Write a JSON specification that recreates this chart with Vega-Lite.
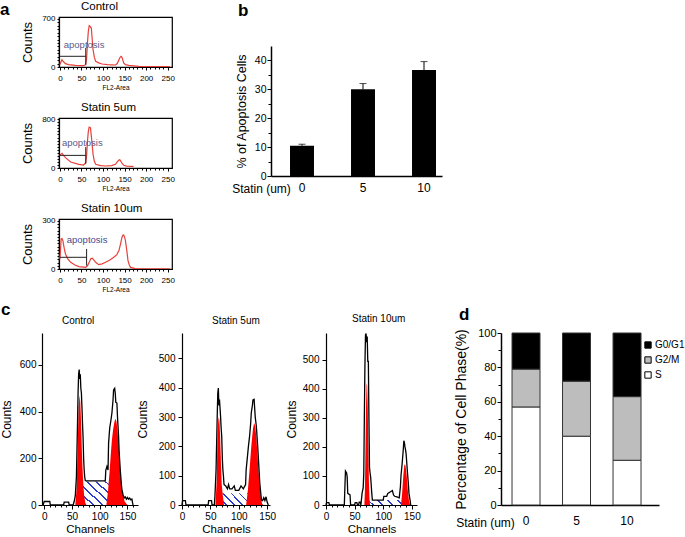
{
"$schema":"https://vega.github.io/schema/vega-lite/v6.json",
"autosize":{"type":"pad"},
"padding":0,
"background":"white",
"config":{"view":{"stroke":null},"font":"Liberation Sans",
"axis":{"grid":false,"domainColor":"#000","domainWidth":1.2,"tickColor":"#000","tickWidth":1,"labelColor":"#000","titleColor":"#000","titleFontWeight":"normal","labelFlush":false,"labelOverlap":false},
"title":{"fontWeight":"normal","color":"#000"}},
"datasets":{
"a1":[{"x":0,"y":34},{"x":3,"y":80},{"x":5,"y":107},{"x":8,"y":80},{"x":13,"y":49},{"x":20,"y":35},{"x":36,"y":24},{"x":50,"y":20},{"x":55,"y":19},{"x":60,"y":34},{"x":62,"y":120},{"x":64,"y":350},{"x":66,"y":520},{"x":68,"y":602},{"x":70,"y":590},{"x":73,"y":568},{"x":75,"y":400},{"x":77,"y":253},{"x":80,"y":140},{"x":83,"y":83},{"x":90,"y":60},{"x":98,"y":44},{"x":110,"y":35},{"x":120,"y":32},{"x":129,"y":29},{"x":133,"y":50},{"x":137,"y":107},{"x":140,"y":145},{"x":142,"y":155},{"x":144,"y":140},{"x":148,"y":58},{"x":152,"y":35},{"x":160,"y":24},{"x":183,"y":10},{"x":220,"y":7},{"x":255,"y":5}],
"a2":[{"x":0,"y":200},{"x":2,"y":223},{"x":5,"y":240},{"x":8,"y":210},{"x":13,"y":169},{"x":25,"y":98},{"x":44,"y":60},{"x":55,"y":49},{"x":60,"y":87},{"x":62,"y":200},{"x":64,"y":441},{"x":66,"y":600},{"x":68,"y":670},{"x":70,"y":665},{"x":71,"y":659},{"x":74,"y":450},{"x":77,"y":223},{"x":80,"y":110},{"x":83,"y":60},{"x":95,"y":40},{"x":106,"y":33},{"x":120,"y":40},{"x":129,"y":60},{"x":133,"y":100},{"x":137,"y":131},{"x":139,"y":135},{"x":141,"y":114},{"x":144,"y":80},{"x":148,"y":44},{"x":155,"y":32},{"x":168,"y":27},{"x":171,"y":25}],
"a3":[{"x":0,"y":60},{"x":1,"y":94},{"x":3,"y":188},{"x":5,"y":190},{"x":7,"y":177},{"x":10,"y":130},{"x":13,"y":94},{"x":18,"y":65},{"x":25,"y":42},{"x":35,"y":25},{"x":44,"y":15},{"x":55,"y":12},{"x":60,"y":10},{"x":64,"y":20},{"x":68,"y":42},{"x":72,"y":65},{"x":75,"y":67},{"x":78,"y":58},{"x":83,"y":42},{"x":90,"y":27},{"x":98,"y":32},{"x":106,"y":42},{"x":115,"y":55},{"x":125,"y":73},{"x":132,"y":90},{"x":137,"y":115},{"x":141,"y":160},{"x":144,"y":198},{"x":146,"y":210},{"x":148,"y":212},{"x":150,"y":200},{"x":152,"y":177},{"x":155,"y":120},{"x":158,"y":52},{"x":161,"y":25},{"x":164,"y":10},{"x":175,"y":2},{"x":200,"y":1},{"x":255,"y":1}],
"a1k":[{"x":0,"x2":60,"y":156,"y2":156},{"x":60,"x2":60,"y":34,"y2":277}],
"a2k":[{"x":0,"x2":60,"y":207,"y2":207},{"x":60,"x2":60,"y":70,"y2":343}],
"a3k":[{"x":0,"x2":62,"y":73,"y2":73},{"x":62,"x2":62,"y":21,"y2":125}],
"b":[{"statin":"0","pct":10.5,"hi":11.0},{"statin":"5","pct":30,"hi":32},{"statin":"10","pct":36.7,"hi":39.6}],
"d":[{"statin":"0","phase":"S","pct":57},{"statin":"0","phase":"G2/M","pct":22},{"statin":"0","phase":"G0/G1","pct":21},{"statin":"5","phase":"S","pct":40},{"statin":"5","phase":"G2/M","pct":32},{"statin":"5","phase":"G0/G1","pct":28},{"statin":"10","phase":"S","pct":26},{"statin":"10","phase":"G2/M","pct":37},{"statin":"10","phase":"G0/G1","pct":37}],
"c1o":[{"x":-2,"y":0},{"x":0,"y":15},{"x":10,"y":15},{"x":11,"y":0},{"x":35,"y":0},{"x":36,"y":12},{"x":44,"y":12},{"x":45,"y":0},{"x":52,"y":0},{"x":54,"y":15},{"x":56,"y":40},{"x":58,"y":120},{"x":60,"y":350},{"x":61,"y":480},{"x":62,"y":560},{"x":63,"y":580},{"x":64,"y":540},{"x":65,"y":560},{"x":66,"y":500},{"x":67,"y":480},{"x":68,"y":420},{"x":69,"y":350},{"x":70,"y":290},{"x":71,"y":200},{"x":72,"y":150},{"x":73,"y":120},{"x":74,"y":105},{"x":76,"y":103},{"x":110,"y":103},{"x":111,"y":150},{"x":113,"y":165},{"x":115,"y":150},{"x":116,"y":265},{"x":118,"y":330},{"x":120,"y":360},{"x":122,"y":394},{"x":124,"y":450},{"x":125,"y":493},{"x":127,"y":500},{"x":128,"y":480},{"x":129,"y":440},{"x":131,"y":437},{"x":132,"y":380},{"x":134,"y":293},{"x":135,"y":230},{"x":137,"y":151},{"x":139,"y":90},{"x":140,"y":66},{"x":142,"y":44},{"x":144,"y":30},{"x":146,"y":35},{"x":148,"y":25},{"x":150,"y":32},{"x":152,"y":25},{"x":154,"y":30},{"x":156,"y":22},{"x":158,"y":25},{"x":160,"y":0}],
"c1r":[{"pk":"G1","x":56,"y":0},{"pk":"G1","x":58,"y":60},{"pk":"G1","x":60,"y":200},{"pk":"G1","x":61,"y":320},{"pk":"G1","x":62,"y":420},{"pk":"G1","x":63,"y":450},{"pk":"G1","x":64,"y":470},{"pk":"G1","x":65,"y":440},{"pk":"G1","x":66,"y":380},{"pk":"G1","x":67,"y":300},{"pk":"G1","x":68,"y":220},{"pk":"G1","x":69,"y":160},{"pk":"G1","x":70,"y":110},{"pk":"G1","x":71,"y":70},{"pk":"G1","x":72,"y":40},{"pk":"G1","x":74,"y":10},{"pk":"G1","x":76,"y":0},{"pk":"G2","x":112,"y":0},{"pk":"G2","x":115,"y":60},{"pk":"G2","x":118,"y":150},{"pk":"G2","x":120,"y":220},{"pk":"G2","x":122,"y":280},{"pk":"G2","x":124,"y":320},{"pk":"G2","x":126,"y":350},{"pk":"G2","x":128,"y":370},{"pk":"G2","x":130,"y":360},{"pk":"G2","x":132,"y":320},{"pk":"G2","x":134,"y":260},{"pk":"G2","x":136,"y":190},{"pk":"G2","x":138,"y":120},{"pk":"G2","x":140,"y":70},{"pk":"G2","x":142,"y":40},{"pk":"G2","x":145,"y":15},{"pk":"G2","x":150,"y":0}],
"c1h":[{"x":57,"y":0},{"x":70,"y":101},{"x":113,"y":101},{"x":145,"y":0}],
"c2o":[{"x":0,"y":0},{"x":1,"y":15},{"x":6,"y":15},{"x":7,"y":0},{"x":46,"y":0},{"x":47,"y":15},{"x":52,"y":15},{"x":53,"y":0},{"x":57,"y":0},{"x":58,"y":30},{"x":60,"y":120},{"x":62,"y":300},{"x":63,"y":380},{"x":64,"y":399},{"x":65,"y":340},{"x":66,"y":360},{"x":67,"y":331},{"x":68,"y":300},{"x":69,"y":260},{"x":70,"y":234},{"x":71,"y":160},{"x":72,"y":120},{"x":73,"y":99},{"x":74,"y":70},{"x":77,"y":65},{"x":80,"y":55},{"x":82,"y":70},{"x":84,"y":55},{"x":88,"y":55},{"x":92,"y":65},{"x":94,"y":50},{"x":100,"y":50},{"x":104,"y":65},{"x":108,"y":55},{"x":112,"y":70},{"x":113,"y":120},{"x":115,"y":160},{"x":117,"y":200},{"x":119,"y":234},{"x":121,"y":280},{"x":122,"y":314},{"x":124,"y":340},{"x":125,"y":359},{"x":127,"y":361},{"x":128,"y":330},{"x":129,"y":300},{"x":131,"y":268},{"x":133,"y":210},{"x":134,"y":177},{"x":136,"y":110},{"x":137,"y":75},{"x":139,"y":35},{"x":140,"y":17},{"x":142,"y":15},{"x":144,"y":25},{"x":146,"y":15},{"x":148,"y":28},{"x":150,"y":10},{"x":152,"y":0}],
"c2r":[{"pk":"G1","x":59,"y":0},{"pk":"G1","x":61,"y":80},{"pk":"G1","x":62,"y":180},{"pk":"G1","x":63,"y":260},{"pk":"G1","x":64,"y":290},{"pk":"G1","x":65,"y":300},{"pk":"G1","x":66,"y":285},{"pk":"G1","x":67,"y":240},{"pk":"G1","x":68,"y":180},{"pk":"G1","x":69,"y":120},{"pk":"G1","x":70,"y":70},{"pk":"G1","x":72,"y":30},{"pk":"G1","x":74,"y":0},{"pk":"G2","x":113,"y":0},{"pk":"G2","x":116,"y":50},{"pk":"G2","x":119,"y":120},{"pk":"G2","x":122,"y":200},{"pk":"G2","x":125,"y":260},{"pk":"G2","x":127,"y":280},{"pk":"G2","x":129,"y":270},{"pk":"G2","x":131,"y":230},{"pk":"G2","x":133,"y":170},{"pk":"G2","x":135,"y":110},{"pk":"G2","x":137,"y":60},{"pk":"G2","x":139,"y":25},{"pk":"G2","x":141,"y":5},{"pk":"G2","x":143,"y":0}],
"c2h":[{"x":60,"y":0},{"x":69,"y":40},{"x":117,"y":40},{"x":137,"y":0}],
"c3o":[{"x":0,"y":0},{"x":1,"y":8},{"x":5,"y":8},{"x":6,"y":0},{"x":32,"y":0},{"x":33,"y":60},{"x":34,"y":117},{"x":36,"y":110},{"x":37,"y":97},{"x":38,"y":40},{"x":42,"y":35},{"x":43,"y":0},{"x":50,"y":0},{"x":51,"y":8},{"x":54,"y":8},{"x":55,"y":0},{"x":57,"y":0},{"x":58,"y":10},{"x":60,"y":10},{"x":61,"y":0},{"x":63,"y":40},{"x":65,"y":60},{"x":66,"y":108},{"x":67,"y":300},{"x":68,"y":480},{"x":69,"y":585},{"x":70,"y":590},{"x":71,"y":560},{"x":72,"y":580},{"x":73,"y":494},{"x":74,"y":494},{"x":75,"y":300},{"x":76,"y":130},{"x":77,"y":110},{"x":78,"y":97},{"x":80,"y":40},{"x":81,"y":17},{"x":100,"y":17},{"x":101,"y":30},{"x":106,"y":30},{"x":108,"y":40},{"x":112,"y":45},{"x":116,"y":50},{"x":118,"y":35},{"x":120,"y":30},{"x":124,"y":28},{"x":128,"y":25},{"x":130,"y":63},{"x":131,"y":100},{"x":133,"y":141},{"x":135,"y":190},{"x":136,"y":221},{"x":137,"y":215},{"x":138,"y":200},{"x":139,"y":190},{"x":140,"y":176},{"x":142,"y":120},{"x":144,"y":70},{"x":145,"y":40},{"x":147,"y":15},{"x":148,"y":0}],
"c3r":[{"pk":"G1","x":67,"y":0},{"pk":"G1","x":68,"y":50},{"pk":"G1","x":69,"y":200},{"pk":"G1","x":70,"y":350},{"pk":"G1","x":71,"y":420},{"pk":"G1","x":72,"y":410},{"pk":"G1","x":73,"y":330},{"pk":"G1","x":74,"y":200},{"pk":"G1","x":75,"y":80},{"pk":"G1","x":76,"y":20},{"pk":"G1","x":77,"y":0},{"pk":"G2","x":131,"y":0},{"pk":"G2","x":133,"y":40},{"pk":"G2","x":135,"y":100},{"pk":"G2","x":137,"y":140},{"pk":"G2","x":139,"y":135},{"pk":"G2","x":141,"y":100},{"pk":"G2","x":143,"y":50},{"pk":"G2","x":145,"y":15},{"pk":"G2","x":147,"y":0}],
"c3h":[{"x":70,"y":0},{"x":76,"y":17},{"x":128,"y":17},{"x":140,"y":0}]
},
"columns":5,
"bounds":"flush",
"align":"each",
"spacing":{"row":51,"column":0},
"concat":[
{"width":17,"height":1,"data":{"values":[]},"mark":"point","title":{"text":"a","anchor":"start","frame":"group","dx":-42,"offset":-2,"fontSize":17,"fontWeight":"bold"}},
{"width":113,"height":50,"view":{"stroke":"#000","strokeWidth":1.2},
 "title":{"text":"Control","anchor":"start","frame":"group","dx":22,"fontSize":11.5,"offset":2},
 "encoding":{"x":{"field":"x","type":"quantitative","scale":{"domain":[-2,260],"nice":false,"zero":false},"axis":{"values":[0,10,20,30,40,50,60,70,80,90,100,110,120,130,140,150,160,170,180,190,200,210,220,230,240,250],"labelExpr":"datum.value % 50 === 0 ? datum.label : ''","tickSize":{"condition":{"test":"datum.value % 50 === 0","value":3},"value":2},"labelFontSize":8,"labelPadding":4,"title":"FL2-Area","titleFontSize":6.5,"titlePadding":2}},
  "y":{"field":"y","type":"quantitative","scale":{"domain":[0,729],"nice":false},"axis":{"values":[0,50,100,150,200,250,300,350,400,450,500,550,600,650,700],"labelExpr":"datum.value === 0 || datum.value === 700 ? datum.label : ''","tickSize":2,"labelFontSize":8,"labelPadding":2,"title":"Counts","titleFontSize":13,"titlePadding":7}}},
 "layer":[
  {"data":{"name":"a1"},"mark":{"type":"line","color":"#e8403a","strokeWidth":1.2,"clip":true}},
  {"data":{"name":"a1k"},"mark":{"type":"rule","color":"#222","strokeWidth":1},"encoding":{"x2":{"field":"x2"},"y2":{"field":"y2"}}},
  {"data":{"values":[{"x":9,"y":320,"t":"apoptosis"}]},"mark":{"type":"text","align":"left","baseline":"middle","fontSize":9.5,"color":"#5b5b8c"},"encoding":{"text":{"field":"t"}}}
 ]},
{"width":99,"height":1,"data":{"values":[]},"mark":"point"},
{"width":171,"height":50,
 "title":{"text":"b","anchor":"start","frame":"group","dx":-33,"fontSize":17,"fontWeight":"bold","offset":-3},
 "data":{"name":"b"},
 "encoding":{"x":{"field":"statin","type":"ordinal","sort":["0","5","10"],"scale":{"paddingInner":0.607,"paddingOuter":0.205,"align":0.76},"axis":{"title":"Statin (um)","titleAngle":0,"titleX":-10,"titleY":12,"titleAlign":"center","titleBaseline":"middle","titleFontSize":12,"labelAngle":0,"labelFontSize":12,"labelPadding":6,"ticks":false,"domainWidth":1.5,"offset":109}},
  "y":{"field":"pct","type":"quantitative","scale":{"domain":[0,45],"nice":false,"range":[159,29]},"axis":{"values":[0,5,10,15,20,25,30,35,40],"labelExpr":"datum.value % 10 === 0 ? datum.label : ''","tickSize":{"condition":{"test":"datum.value % 10 === 0","value":4},"value":3},"labelFontSize":10.5,"labelPadding":1,"title":"% of Apoptosis Cells","titleFontSize":12.5,"titlePadding":6,"domainWidth":1.5}}},
 "layer":[
  {"mark":{"type":"bar","color":"#000"}},
  {"mark":{"type":"rule","color":"#000","strokeWidth":1},"encoding":{"y2":{"field":"hi"}}},
  {"mark":{"type":"tick","orient":"horizontal","color":"#000","size":7,"thickness":1},
   "encoding":{"y":{"field":"hi","type":"quantitative","scale":{"domain":[0,45],"nice":false,"range":[159,29]},"axis":{"values":[0,5,10,15,20,25,30,35,40],"labelExpr":"datum.value % 10 === 0 ? datum.label : ''","tickSize":{"condition":{"test":"datum.value % 10 === 0","value":4},"value":3},"labelFontSize":10.5,"labelPadding":1,"title":"% of Apoptosis Cells","titleFontSize":12.5,"titlePadding":6,"domainWidth":1.5}}}}
 ]},
{"width":1,"height":1,"data":{"values":[]},"mark":"point"},

{"width":17,"height":1,"data":{"values":[]},"mark":"point"},
{"width":113,"height":50,"view":{"stroke":"#000","strokeWidth":1.2},
 "title":{"text":"Statin  5um","anchor":"start","frame":"group","dx":22,"fontSize":11.5,"offset":2},
 "encoding":{"x":{"field":"x","type":"quantitative","scale":{"domain":[-2,260],"nice":false,"zero":false},"axis":{"values":[0,10,20,30,40,50,60,70,80,90,100,110,120,130,140,150,160,170,180,190,200,210,220,230,240,250],"labelExpr":"datum.value % 50 === 0 ? datum.label : ''","tickSize":{"condition":{"test":"datum.value % 50 === 0","value":3},"value":2},"labelFontSize":8,"labelPadding":4,"title":"FL2-Area","titleFontSize":6.5,"titlePadding":2}},
  "y":{"field":"y","type":"quantitative","scale":{"domain":[0,820],"nice":false},"axis":{"values":[0,50,100,150,200,250,300,350,400,450,500,550,600,650,700,750,800],"labelExpr":"datum.value === 0 || datum.value === 800 ? datum.label : ''","tickSize":2,"labelFontSize":8,"labelPadding":2,"title":"Counts","titleFontSize":13,"titlePadding":7}}},
 "layer":[
  {"data":{"name":"a2"},"mark":{"type":"line","color":"#e8403a","strokeWidth":1.2,"clip":true}},
  {"data":{"name":"a2k"},"mark":{"type":"rule","color":"#222","strokeWidth":1},"encoding":{"x2":{"field":"x2"},"y2":{"field":"y2"}}},
  {"data":{"values":[{"x":5,"y":403,"t":"apoptosis"}]},"mark":{"type":"text","align":"left","baseline":"middle","fontSize":9.5,"color":"#5b5b8c"},"encoding":{"text":{"field":"t"}}}
 ]},
{"width":1,"height":1,"data":{"values":[]},"mark":"point"},
{"width":1,"height":1,"data":{"values":[]},"mark":"point"},
{"width":1,"height":1,"data":{"values":[]},"mark":"point"},

{"width":17,"height":63,"data":{"values":[]},"mark":"point"},
{"width":113,"height":50,"view":{"stroke":"#000","strokeWidth":1.2},
 "title":{"text":"Statin 10um","anchor":"start","frame":"group","dx":22,"fontSize":11.5,"offset":2},
 "encoding":{"x":{"field":"x","type":"quantitative","scale":{"domain":[-2,260],"nice":false,"zero":false},"axis":{"values":[0,10,20,30,40,50,60,70,80,90,100,110,120,130,140,150,160,170,180,190,200,210,220,230,240,250],"labelExpr":"datum.value % 50 === 0 ? datum.label : ''","tickSize":{"condition":{"test":"datum.value % 50 === 0","value":3},"value":2},"labelFontSize":8,"labelPadding":4,"title":"FL2-Area","titleFontSize":6.5,"titlePadding":2}},
  "y":{"field":"y","type":"quantitative","scale":{"domain":[0,312],"nice":false},"axis":{"values":[0,20,40,60,80,100,120,140,160,180,200,220,240,260,280,300],"labelExpr":"datum.value === 0 || datum.value === 300 ? datum.label : ''","tickSize":2,"labelFontSize":8,"labelPadding":2,"title":"Counts","titleFontSize":13,"titlePadding":7}}},
 "layer":[
  {"data":{"name":"a3"},"mark":{"type":"line","color":"#e8403a","strokeWidth":1.2,"clip":true}},
  {"data":{"name":"a3k"},"mark":{"type":"rule","color":"#222","strokeWidth":1},"encoding":{"x2":{"field":"x2"},"y2":{"field":"y2"}}},
  {"data":{"values":[{"x":16,"y":181,"t":"apoptosis"}]},"mark":{"type":"text","align":"left","baseline":"middle","fontSize":9.5,"color":"#4a4a90"},"encoding":{"text":{"field":"t"}}}
 ]},
{"width":1,"height":1,"data":{"values":[]},"mark":"point"},
{"width":1,"height":1,"data":{"values":[]},"mark":"point"},
{"width":1,"height":1,"data":{"values":[]},"mark":"point"},

{"width":17,"height":1,"data":{"values":[]},"mark":"point","title":{"text":"c","anchor":"start","frame":"group","dx":-41,"offset":14,"fontSize":17,"fontWeight":"bold"}},
{"width":113,"height":172,
 "title":{"text":"Control","anchor":"start","frame":"group","dx":3,"fontSize":10,"offset":7},
 "encoding":{"x":{"field":"x","type":"quantitative","scale":{"domain":[-4,169],"nice":false,"zero":false,"range":[-17,79]},"axis":{"values":[0,10,20,30,40,50,60,70,80,90,100,110,120,130,140,150,160],"labelExpr":"datum.value % 50 === 0 ? datum.label : ''","tickSize":{"condition":{"test":"datum.value % 50 === 0","value":4},"value":2},"labelFontSize":10,"labelPadding":2,"title":"Channels","titleFontSize":11.5,"titlePadding":2}},
  "y":{"field":"y","type":"quantitative","stack":null,"scale":{"domain":[0,737],"nice":false},"axis":{"offset":17,"values":[0,200,400,600],"tickSize":4,"labelFontSize":10,"labelPadding":2,"title":"Counts","titleFontSize":12,"titlePadding":6}}},
 "layer":[
  {"data":{"name":"c1h"},"mark":{"type":"area","opacity":1,"color":{"gradient":"linear","x1":-0.25,"y1":0.875,"x2":1.25,"y2":0.125,"stops":[{"offset":0,"color":"#fff"},{"offset":0.078,"color":"#fff"},{"offset":0.078,"color":"#2a3bd0"},{"offset":0.1,"color":"#2a3bd0"},{"offset":0.1,"color":"#fff"},{"offset":0.178,"color":"#fff"},{"offset":0.178,"color":"#2a3bd0"},{"offset":0.2,"color":"#2a3bd0"},{"offset":0.2,"color":"#fff"},{"offset":0.278,"color":"#fff"},{"offset":0.278,"color":"#2a3bd0"},{"offset":0.3,"color":"#2a3bd0"},{"offset":0.3,"color":"#fff"},{"offset":0.378,"color":"#fff"},{"offset":0.378,"color":"#2a3bd0"},{"offset":0.4,"color":"#2a3bd0"},{"offset":0.4,"color":"#fff"},{"offset":0.478,"color":"#fff"},{"offset":0.478,"color":"#2a3bd0"},{"offset":0.5,"color":"#2a3bd0"},{"offset":0.5,"color":"#fff"},{"offset":0.578,"color":"#fff"},{"offset":0.578,"color":"#2a3bd0"},{"offset":0.6,"color":"#2a3bd0"},{"offset":0.6,"color":"#fff"},{"offset":0.678,"color":"#fff"},{"offset":0.678,"color":"#2a3bd0"},{"offset":0.7,"color":"#2a3bd0"},{"offset":0.7,"color":"#fff"},{"offset":0.778,"color":"#fff"},{"offset":0.778,"color":"#2a3bd0"},{"offset":0.8,"color":"#2a3bd0"},{"offset":0.8,"color":"#fff"},{"offset":0.878,"color":"#fff"},{"offset":0.878,"color":"#2a3bd0"},{"offset":0.9,"color":"#2a3bd0"},{"offset":0.9,"color":"#fff"},{"offset":0.978,"color":"#fff"},{"offset":0.978,"color":"#2a3bd0"},{"offset":1,"color":"#2a3bd0"}]}}},
  {"data":{"name":"c1r"},"mark":{"type":"area","color":"#ff0000","opacity":1},"encoding":{"detail":{"field":"pk"}}},
  {"data":{"name":"c1o"},"mark":{"type":"line","color":"#000","strokeWidth":1.3}}
 ]},
{"width":99,"height":172,
 "title":{"text":"Statin  5um","anchor":"start","frame":"group","dx":40,"fontSize":10,"offset":7},
 "encoding":{"x":{"field":"x","type":"quantitative","scale":{"domain":[0,155],"nice":false,"zero":false,"range":[10,98]},"axis":{"values":[0,10,20,30,40,50,60,70,80,90,100,110,120,130,140,150],"labelExpr":"datum.value % 50 === 0 ? datum.label : ''","tickSize":{"condition":{"test":"datum.value % 50 === 0","value":4},"value":2},"labelFontSize":10,"labelPadding":2,"title":"Channels","titleFontSize":11.5,"titlePadding":2}},
  "y":{"field":"y","type":"quantitative","stack":null,"scale":{"domain":[0,587],"nice":false},"axis":{"offset":-10,"values":[0,100,200,300,400,500],"tickSize":4,"labelFontSize":10,"labelPadding":3,"title":"Counts","titleFontSize":12,"titlePadding":9}}},
 "layer":[
  {"data":{"name":"c2h"},"mark":{"type":"area","opacity":1,"color":{"gradient":"linear","x1":-0.2,"y1":0.7,"x2":1.2,"y2":0.33,"stops":[{"offset":0,"color":"#fff"},{"offset":0.1,"color":"#fff"},{"offset":0.1,"color":"#2a3bd0"},{"offset":0.125,"color":"#2a3bd0"},{"offset":0.125,"color":"#fff"},{"offset":0.225,"color":"#fff"},{"offset":0.225,"color":"#2a3bd0"},{"offset":0.25,"color":"#2a3bd0"},{"offset":0.25,"color":"#fff"},{"offset":0.35,"color":"#fff"},{"offset":0.35,"color":"#2a3bd0"},{"offset":0.375,"color":"#2a3bd0"},{"offset":0.375,"color":"#fff"},{"offset":0.475,"color":"#fff"},{"offset":0.475,"color":"#2a3bd0"},{"offset":0.5,"color":"#2a3bd0"},{"offset":0.5,"color":"#fff"},{"offset":0.6,"color":"#fff"},{"offset":0.6,"color":"#2a3bd0"},{"offset":0.625,"color":"#2a3bd0"},{"offset":0.625,"color":"#fff"},{"offset":0.725,"color":"#fff"},{"offset":0.725,"color":"#2a3bd0"},{"offset":0.75,"color":"#2a3bd0"},{"offset":0.75,"color":"#fff"},{"offset":0.85,"color":"#fff"},{"offset":0.85,"color":"#2a3bd0"},{"offset":0.875,"color":"#2a3bd0"},{"offset":0.875,"color":"#fff"},{"offset":0.975,"color":"#fff"},{"offset":0.975,"color":"#2a3bd0"},{"offset":1,"color":"#2a3bd0"}]}}},
  {"data":{"name":"c2r"},"mark":{"type":"area","color":"#ff0000","opacity":1},"encoding":{"detail":{"field":"pk"}}},
  {"data":{"name":"c2o"},"mark":{"type":"line","color":"#000","strokeWidth":1.3}}
 ]},
{"width":171,"height":172,
 "title":{"text":"Statin 10um","anchor":"start","frame":"group","dx":81,"fontSize":10,"offset":7},
 "encoding":{"x":{"field":"x","type":"quantitative","scale":{"domain":[0,159],"nice":false,"zero":false,"range":[55,146]},"axis":{"values":[0,10,20,30,40,50,60,70,80,90,100,110,120,130,140,150],"labelExpr":"datum.value % 50 === 0 ? datum.label : ''","tickSize":{"condition":{"test":"datum.value % 50 === 0","value":4},"value":2},"labelFontSize":10,"labelPadding":2,"title":"Channels","titleFontSize":11.5,"titlePadding":2}},
  "y":{"field":"y","type":"quantitative","stack":null,"scale":{"domain":[0,592],"nice":false},"axis":{"offset":-55,"values":[0,100,200,300,400,500],"tickSize":4,"labelFontSize":10,"labelPadding":3,"title":"Counts","titleFontSize":12,"titlePadding":4}}},
 "layer":[
  {"data":{"name":"c3h"},"mark":{"type":"area","opacity":1,"color":{"gradient":"linear","x1":-0.1,"y1":0.56,"x2":1.1,"y2":0.41,"stops":[{"offset":0,"color":"#fff"},{"offset":0.16,"color":"#fff"},{"offset":0.16,"color":"#2a3bd0"},{"offset":0.2,"color":"#2a3bd0"},{"offset":0.2,"color":"#fff"},{"offset":0.36,"color":"#fff"},{"offset":0.36,"color":"#2a3bd0"},{"offset":0.4,"color":"#2a3bd0"},{"offset":0.4,"color":"#fff"},{"offset":0.56,"color":"#fff"},{"offset":0.56,"color":"#2a3bd0"},{"offset":0.6,"color":"#2a3bd0"},{"offset":0.6,"color":"#fff"},{"offset":0.76,"color":"#fff"},{"offset":0.76,"color":"#2a3bd0"},{"offset":0.8,"color":"#2a3bd0"},{"offset":0.8,"color":"#fff"},{"offset":0.96,"color":"#fff"},{"offset":0.96,"color":"#2a3bd0"},{"offset":1,"color":"#2a3bd0"}]}}},
  {"data":{"name":"c3r"},"mark":{"type":"area","color":"#ff0000","opacity":1},"encoding":{"detail":{"field":"pk"}}},
  {"data":{"name":"c3o"},"mark":{"type":"line","color":"#000","strokeWidth":1.3}}
 ]},
{"width":217,"height":172,
 "title":{"text":"d","anchor":"start","frame":"group","dx":17,"fontSize":17,"fontWeight":"bold","offset":3},
 "data":{"name":"d"},
 "mark":{"type":"bar","stroke":"#333","strokeWidth":1},
 "encoding":{
  "x":{"field":"statin","type":"ordinal","sort":["0","5","10"],"scale":{"paddingInner":0.446,"paddingOuter":0.287,"align":0.38,"range":[59,217]},"axis":{"title":"Statin (um)","titleAngle":0,"titleX":43,"titleY":17,"titleAlign":"center","titleBaseline":"middle","titleFontSize":12,"labelAngle":0,"labelFontSize":12,"labelPadding":10,"ticks":false,"domainWidth":1.5}},
  "y":{"field":"pct","type":"quantitative","stack":"zero","scale":{"domain":[0,100],"nice":false},"axis":{"offset":-59,"values":[0,10,20,30,40,50,60,70,80,90,100],"labelExpr":"datum.value % 20 === 0 ? datum.label : ''","tickSize":{"condition":{"test":"datum.value % 20 === 0","value":4},"value":3},"labelFontSize":11,"labelPadding":1,"title":"Percentage of Cell Phase(%)","titleFontSize":14,"titlePadding":9,"domainWidth":1.5}},
  "color":{"field":"phase","type":"nominal","scale":{"domain":["G0/G1","G2/M","S"],"range":["#000000","#bdbdbd","#ffffff"]},"legend":{"orient":"none","legendX":601,"legendY":323,"title":null,"symbolType":"square","symbolSize":40,"symbolStrokeColor":"#000","symbolStrokeWidth":1,"labelFontSize":10,"rowPadding":3,"labelOffset":2}},
  "order":{"field":"phase","sort":"descending"}
 }}
]
}
